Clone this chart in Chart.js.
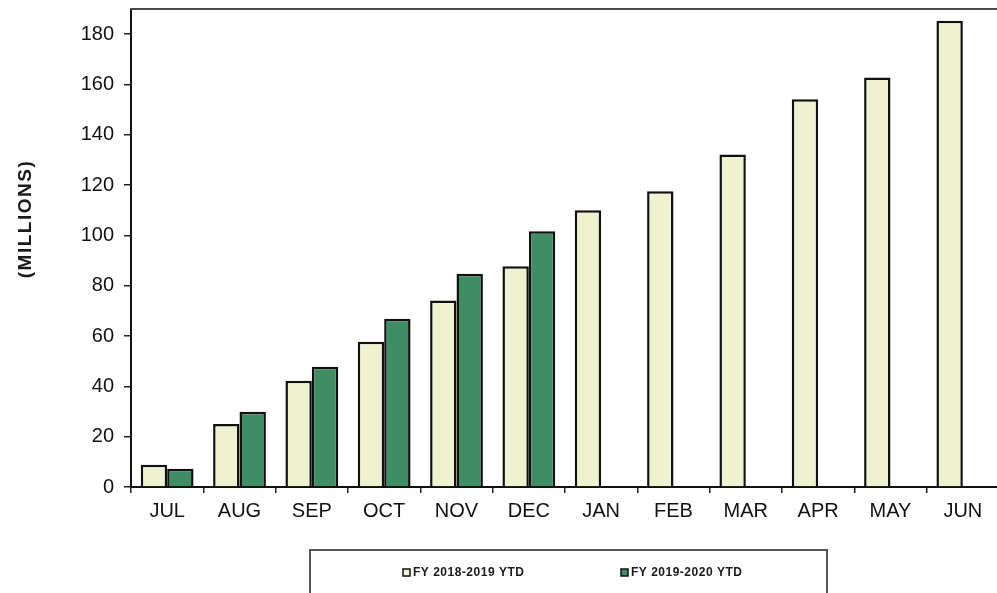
<!DOCTYPE html>
<html>
<head>
<meta charset="utf-8">
<script src="https://cdn.jsdelivr.net/npm/chart.js@4/dist/chart.umd.min.js"></script>
<style>
  html, body { margin: 0; padding: 0; background: #fff; overflow: hidden; }
  #wrap { position: relative; width: 1000px; height: 593px; }
</style>
</head>
<body>
<div id="wrap"><canvas id="c" width="1000" height="593"></canvas></div>
<script>
// Cumulative year-to-date totals, in millions
const months = ['JUL', 'AUG', 'SEP', 'OCT', 'NOV', 'DEC', 'JAN', 'FEB', 'MAR', 'APR', 'MAY', 'JUN'];
const fy2019 = [8.8, 25.0, 42.2, 57.7, 74.1, 87.7, 110.0, 117.6, 132.2, 154.1, 162.8, 185.3];
const fy2020 = [7.3, 29.9, 47.8, 66.9, 84.8, 101.7, null, null, null, null, null, null];
const seriesNames = ['FY 2018-2019 YTD', 'FY 2019-2020 YTD'];
const yTicks = [0, 20, 40, 60, 80, 100, 120, 140, 160, 180];

const FONT = "'Liberation Sans', Arial, sans-serif";
const LIGHT = '#eef2cf';
const GREEN = '#3f8d63';

// Frame line along the top of the plot, vertical axis title, boxed legend
const decorations = {
  id: 'decorations',
  afterDraw(chart) {
    const { ctx, chartArea } = chart;
    ctx.save();
    // top frame line
    ctx.strokeStyle = '#4a4a4a';
    ctx.lineWidth = 2;
    ctx.beginPath();
    ctx.moveTo(chartArea.left - 1, chartArea.top);
    ctx.lineTo(chartArea.right + 2, chartArea.top);
    ctx.stroke();

    // axis title
    ctx.save();
    ctx.translate(26, 219);
    ctx.rotate(-Math.PI / 2);
    ctx.font = 'bold 19px ' + FONT;
    ctx.letterSpacing = '1.5px';
    ctx.fillStyle = '#1a1a1a';
    ctx.textAlign = 'center';
    ctx.textBaseline = 'middle';
    ctx.fillText('(MILLIONS)', 0, 0);
    ctx.restore();

    // legend frame
    ctx.strokeStyle = '#555';
    ctx.lineWidth = 2;
    ctx.strokeRect(310, 550, 517, 60);

    // legend entries
    const entries = chart.data.datasets.map((d, i) => ({ label: d.label, fill: d.backgroundColor, x: i === 0 ? 403 : 621 }));
    ctx.font = 'bold 12px ' + FONT;
    ctx.letterSpacing = '0.5px';
    ctx.textBaseline = 'middle';
    ctx.textAlign = 'left';
    entries.forEach(e => {
      ctx.fillStyle = e.fill;
      ctx.fillRect(e.x, 569, 7, 7);
      ctx.strokeStyle = '#111';
      ctx.lineWidth = 1.5;
      ctx.strokeRect(e.x, 569, 7, 7);
      ctx.fillStyle = '#1a1a1a';
      ctx.fillText(e.label, e.x + 10, 573);
    });
    ctx.restore();
  }
};

new Chart(document.getElementById('c'), {
  type: 'bar',
  data: {
    labels: months,
    datasets: [
      { label: seriesNames[0], data: fy2019, backgroundColor: LIGHT, borderColor: '#111', borderWidth: 2.5 },
      { label: seriesNames[1], data: fy2020, backgroundColor: GREEN, borderColor: '#111', borderWidth: 2.5 }
    ]
  },
  options: {
    responsive: false,
    animation: false,
    events: [],
    layout: { padding: { top: 9, right: 1, bottom: 66, left: 0 } },
    datasets: { bar: { categoryPercentage: 0.73, barPercentage: 1.0 } },
    plugins: { legend: { display: false }, tooltip: { enabled: false } },
    scales: {
      x: {
        type: 'category',
        offset: true,
        grid: { offset: true, drawOnChartArea: false, drawTicks: true, tickLength: 6, color: '#222', lineWidth: 1.5 },
        border: { display: true, color: '#111', width: 2 },
        ticks: { font: { family: FONT, size: 20 }, color: '#111', padding: 6, maxRotation: 0, autoSkip: false },
        afterFit(s) { s.height = 40; s.paddingLeft = 0; s.paddingRight = 0; }
      },
      y: {
        min: 0,
        max: 190,
        afterBuildTicks(s) { s.ticks = yTicks.map(v => ({ value: v })); },
        grid: { drawOnChartArea: false, drawTicks: true, tickLength: 7, color: '#222', lineWidth: 1.5 },
        border: { display: true, color: '#111', width: 2 },
        ticks: { font: { family: FONT, size: 20 }, color: '#111', padding: 10 },
        afterFit(s) { s.width = 131; s.paddingTop = 0; s.paddingBottom = 0; }
      }
    }
  },
  plugins: [decorations]
});
</script>
</body>
</html>
